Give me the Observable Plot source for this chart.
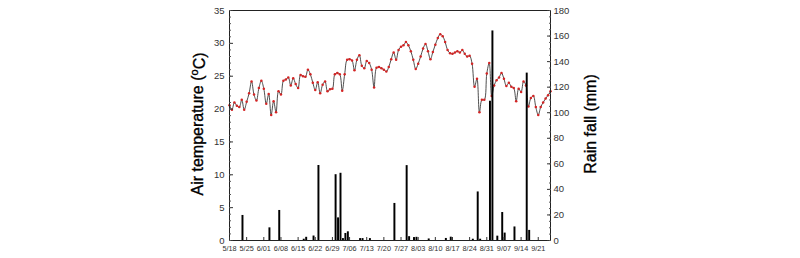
<!DOCTYPE html>
<html><head><meta charset="utf-8">
<script src="https://cdn.jsdelivr.net/npm/d3@7"></script>
<script src="https://cdn.jsdelivr.net/npm/@observablehq/plot@0.6"></script>
<style>body{margin:0;background:#fff} svg{display:block}</style>
</head><body><div id="chart"></div>
<script>
// ---- data ----
const startDate = "2013-05-18";
const endDate = "2013-09-26";
// daily mean air temperature (ºC), one value per day from 5/18
const temperature = [
  20.6,19.9,21.0,20.5,20.3,21.4,19.9,21.1,22.4,24.2,
  22.2,21.3,23.2,24.3,23.1,20.8,22.3,19.1,21.2,19.5,
  22.7,22.2,24.3,24.5,24.8,23.6,24.7,23.8,23.2,25.2,
  25.0,24.9,26.0,25.3,24.0,22.9,24.1,22.4,23.7,24.2,
  22.7,23.0,23.1,25.3,25.5,25.3,22.8,25.3,27.5,27.6,
  27.4,25.9,27.5,28.2,26.6,26.2,27.3,27.0,26.0,23.3,
  26.3,26.4,26.2,26.0,25.7,26.4,27.6,28.6,27.5,29.0,
  29.5,29.7,30.2,29.7,28.8,27.5,26.1,26.9,28.0,29.2,
  29.9,28.8,27.6,28.7,29.8,30.8,31.4,31.1,30.2,29.0,
  28.5,28.4,28.6,28.8,28.6,29.0,28.4,28.0,28.1,26.9,
  23.4,24.6,19.5,21.4,21.4,25.4,27.0,22.0,23.6,24.4,
  24.8,25.5,24.6,23.5,24.0,23.4,23.2,21.2,23.1,22.6,
  24.2,23.6,20.4,21.7,22.0,20.3,19.1,20.3,21.0,21.6,
  22.1,22.7
];
// daily rainfall (mm)
const rainDates = ["5/23","6/03","6/07","6/17","6/18","6/21","6/23","6/30","7/01","7/02",
  "7/03","7/04","7/05","7/10","7/11","7/14","7/24","7/29","7/30","8/01",
  "8/02","8/07","8/14","8/16","8/25","8/27","8/28","9/01","9/02","9/04",
  "9/06","9/07","9/11","9/16","9/17"];
const rainMm = [19.6,9.9,23.5,1.0,2.5,3.5,58.7,51.5,17.7,52.6,
  1.5,5.5,6.8,1.5,1.5,1.5,29.0,58.6,3.0,2.3,
  2.5,1.2,1.6,2.6,1.0,38.0,1.0,109.0,164.0,3.4,
  21.9,5.8,10.6,131.0,7.9];
const tickLabels = ["5/18","5/25","6/01","6/08","6/15","6/22","6/29","7/06","7/13","7/20",
  "7/27","8/03","8/10","8/17","8/24","8/31","9/07","9/14","9/21"];
const tempTicks = [0,5,10,15,20,25,30,35];
const rainTicks = [0,20,40,60,80,100,120,140,160,180];

// ---- build ----
const TMAX = 35, RMAX = 180;
const DAY = 864e5;
const t0 = new Date(startDate + "T00:00:00Z");
const t1 = new Date(endDate + "T00:00:00Z");
const toDate = s => { const [m, d] = s.split("/").map(Number); return new Date(Date.UTC(2013, m - 1, d)); };
const tempData = temperature.map((v, i) => ({date: new Date(+t0 + i * DAY), t: v}));
const rainData = rainDates.map((s, i) => ({date: toDate(s), mm: rainMm[i]}));
const xTicks = tickLabels.map(toDate);
const r2t = v => v * TMAX / RMAX;
const tempMinor = d3.range(0, TMAX + 0.001, 1);
const rainMinor = d3.range(0, RMAX + 0.001, 5).map(r2t);

const font = "'Liberation Sans', Arial, sans-serif";
const plot = Plot.plot({
  width: 800, height: 258,
  marginLeft: 229, marginRight: 250, marginTop: 10, marginBottom: 18,
  style: {fontFamily: font, fontSize: "9px", color: "#222", background: "white", overflow: "visible"},
  x: {type: "utc", domain: [t0, t1]},
  y: {domain: [0, TMAX]},
  marks: [
    Plot.line(tempData, {x: "date", y: "t", curve: "catmull-rom", stroke: "#222", strokeWidth: 0.8}),
    Plot.dot(tempData, {x: "date", y: "t", r: 1.25, fill: "#d42424", stroke: null}),
    Plot.rect(rainData, {x1: "date", x2: d => new Date(+d.date + DAY), y1: 0, y2: d => r2t(d.mm), fill: "#000", insetLeft: 0.25, insetRight: 0.25}),
    Plot.frame({stroke: "#222", strokeWidth: 1}),
    // left axis
    Plot.axisY(tempTicks, {anchor: "left", tickSize: 0, tickPadding: 5, label: null, fontSize: 9.5, fill: "#333"}),
    Plot.axisY(tempTicks, {anchor: "left", tickSize: 4, dx: 4, tickFormat: () => "", label: null, stroke: "#333"}),
    Plot.axisY(tempMinor, {anchor: "left", tickSize: 2, dx: 2, tickFormat: () => "", label: null, stroke: "#555"}),
    // right axis (rainfall)
    Plot.axisY(rainTicks.map(r2t), {anchor: "right", tickSize: 0, tickPadding: 3, label: null, fontSize: 9.5, fill: "#333",
      tickFormat: v => String(Math.round(v * RMAX / TMAX))}),
    Plot.axisY(rainTicks.map(r2t), {anchor: "right", tickSize: 4, dx: -4, tickFormat: () => "", label: null, stroke: "#333"}),
    Plot.axisY(rainMinor, {anchor: "right", tickSize: 2, dx: -2, tickFormat: () => "", label: null, stroke: "#555"}),
    // bottom axis
    Plot.axisX(xTicks, {anchor: "bottom", tickSize: 0, tickPadding: 5, label: null, fontSize: 7.3, fill: "#333",
      tickFormat: d => tickLabels[xTicks.findIndex(t => +t === +d)]}),
    Plot.axisX(xTicks, {anchor: "bottom", tickSize: 3, dy: -3, tickFormat: () => "", label: null, stroke: "#333"})
  ]
});

const svg = d3.select(plot);
const lt = svg.append("text")
  .attr("transform", "translate(203,124) rotate(-90)")
  .attr("text-anchor", "middle")
  .attr("font-family", font).attr("font-size", 16).attr("fill", "#000")
  .attr("stroke", "#000").attr("stroke-width", 0.35);
lt.append("tspan").text("Air temperature (");
lt.append("tspan").attr("font-size", 11).attr("dy", "-0.45em").text("o");
lt.append("tspan").attr("dy", "0.45em").text("C)");
svg.append("text")
  .attr("transform", "translate(596,124) rotate(-90)")
  .attr("text-anchor", "middle")
  .attr("font-family", font).attr("font-size", 16).attr("fill", "#000")
  .attr("stroke", "#000").attr("stroke-width", 0.35)
  .text("Rain fall (mm)");

document.getElementById("chart").append(plot);
</script>
</body></html>
